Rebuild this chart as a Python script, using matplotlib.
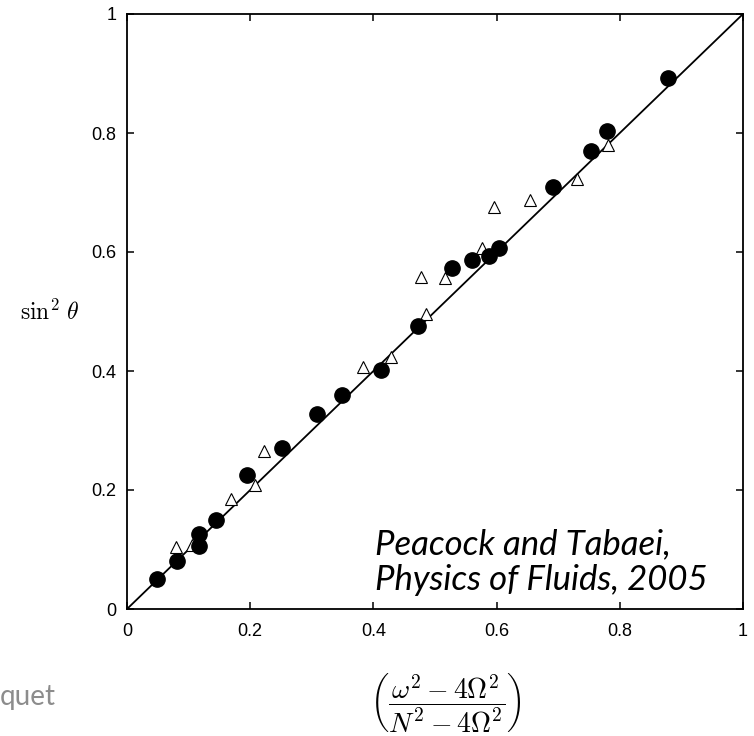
import matplotlib.pyplot as plt

plt.rcParams['mathtext.fontset'] = 'cm'

# 实心圆：第一组实验点
圆点_x = [0.048, 0.081, 0.117, 0.117, 0.144, 0.194, 0.251, 0.309, 0.349, 0.413,
         0.472, 0.528, 0.560, 0.588, 0.604, 0.692, 0.754, 0.780, 0.879]
圆点_y = [0.050, 0.081, 0.126, 0.106, 0.150, 0.225, 0.270, 0.328, 0.360, 0.402,
         0.475, 0.573, 0.586, 0.593, 0.607, 0.710, 0.770, 0.803, 0.893]

# 空心三角：第二组实验点
三角_x = [0.079, 0.106, 0.169, 0.208, 0.222, 0.383, 0.429, 0.477, 0.485, 0.516,
         0.577, 0.596, 0.654, 0.731, 0.781]
三角_y = [0.105, 0.108, 0.185, 0.209, 0.266, 0.407, 0.423, 0.558, 0.496, 0.556,
         0.606, 0.676, 0.688, 0.723, 0.779]

刻度 = [0, 0.2, 0.4, 0.6, 0.8, 1]
刻度标签 = ['0', '0.2', '0.4', '0.6', '0.8', '1']

fig = plt.figure(figsize=(7.54, 7.36), dpi=100)
ax = fig.add_axes([127/754, 1-609/736, 616/754, 595/736])

# 理论直线 y = x
ax.plot([0, 1], [0, 1], color='black', lw=1.3, zorder=1)
ax.plot(三角_x, 三角_y, linestyle='none', marker='^', markersize=8,
        markerfacecolor='white', markeredgecolor='black', markeredgewidth=0.8, zorder=2)
ax.plot(圆点_x, 圆点_y, linestyle='none', marker='o', markersize=11,
        color='black', zorder=3)

ax.set_xlim(0, 1)
ax.set_ylim(0, 1)
ax.set_xticks(刻度)
ax.set_yticks(刻度)
ax.set_xticklabels(刻度标签)
ax.set_yticklabels(刻度标签)
ax.tick_params(direction='in', length=5, width=1.1, top=True, right=True,
               labelsize=13)
ax.tick_params(axis='y', pad=7.5)
ax.tick_params(axis='x', pad=10)
for lab in ax.get_xticklabels() + ax.get_yticklabels():
    lab.set_family('Liberation Sans')
for sp in ax.spines.values():
    sp.set_linewidth(1.3)

# 坐标轴标题
fig.text(50/754, 1-312/736, r'$\sin^2\,\theta$', fontsize=17, ha='center', va='center')
fig.text(446/754, 1-702/736, r'$\left(\dfrac{\omega^2-4\Omega^2}{N^2-4\Omega^2}\right)$',
         fontsize=20, ha='center', va='center')

# 文献出处（baseline 对齐的是最后一行）
ax.text(375/754, 1-590/736, 'Peacock and Tabaei,\nPhysics of Fluids, 2005',
        transform=fig.transFigure, fontsize=25, fontstyle='italic', family='Lato',
        ha='left', va='baseline', linespacing=1.15)

fig.text(0, 1-697/736, 'quet', fontsize=20, color='#8c8c8c', family='Lato',
         ha='left', va='center')

fig.savefig('out.png', dpi=100)
